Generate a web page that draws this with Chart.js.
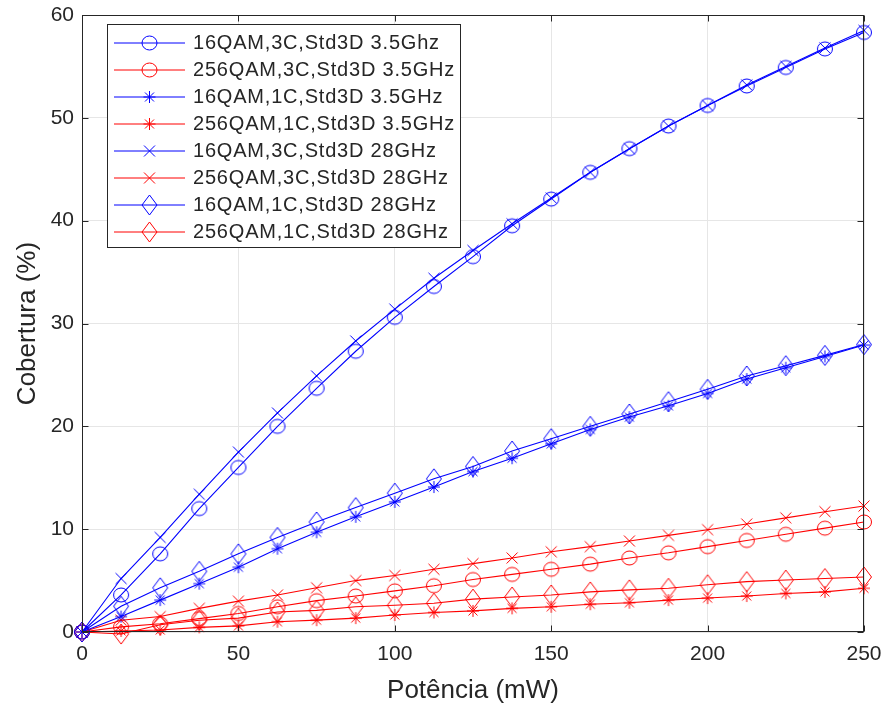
<!DOCTYPE html>
<html>
<head>
<meta charset="utf-8">
<title>Cobertura x Potência</title>
<script src="https://cdn.jsdelivr.net/npm/chart.js@4.4.1/dist/chart.umd.min.js"></script>
<style>
    html, body { margin: 0; padding: 0; background: #fff; }
    #wrap { position: relative; width: 886px; height: 706px; }
    #legenda {
        position: absolute; left: 107px; top: 24px; width: 352px; height: 218px;
        border: 1px solid #262626; background: #fff; padding-top: 4px; box-sizing: content-box;
        font-family: 'Liberation Sans', Arial, sans-serif; font-size: 20px; color: #262626;
        letter-spacing: 0.8px; white-space: nowrap;
    }
    #legenda .item { display: flex; align-items: center; height: 27px; }
    #legenda canvas { margin-left: 6px; margin-right: 8px; }
</style>
</head>
<body>
<div id="wrap">
    <canvas id="grafico" width="886" height="706"></canvas>
    <div id="legenda"></div>
</div>
<script>
// ========== DADOS ==========
const potencias = [0, 12.5, 25, 37.5, 50, 62.5, 75, 87.5, 100, 112.5, 125, 137.5, 150, 162.5, 175, 187.5, 200, 212.5, 225, 237.5, 250];

const qam16_3c_35 = [0, 3.6, 7.6, 12.0, 16.0, 20.0, 23.7, 27.3, 30.6, 33.6, 36.5, 39.5, 42.1, 44.7, 47.0, 49.2, 51.2, 53.1, 54.9, 56.7, 58.3];
const qam256_3c_35 = [0, 0.5, 0.8, 1.3, 1.8, 2.45, 3.05, 3.5, 4.0, 4.5, 5.1, 5.6, 6.1, 6.6, 7.2, 7.7, 8.3, 8.9, 9.5, 10.1, 10.7];
const qam16_1c_35 = [0, 1.5, 3.1, 4.7, 6.3, 8.1, 9.7, 11.2, 12.65, 14.1, 15.6, 16.9, 18.3, 19.7, 20.9, 22.0, 23.2, 24.6, 25.7, 26.8, 27.9];
const qam256_1c_35 = [0, 0.1, 0.2, 0.45, 0.6, 1.0, 1.15, 1.35, 1.65, 1.9, 2.05, 2.3, 2.45, 2.7, 2.85, 3.1, 3.3, 3.5, 3.75, 3.9, 4.25];
const qam16_3c_28 = [0, 5.2, 9.2, 13.4, 17.5, 21.3, 24.9, 28.3, 31.4, 34.4, 37.1, 39.7, 42.2, 44.7, 47.0, 49.2, 51.2, 53.2, 55.0, 56.8, 58.5];
const qam256_3c_28 = [0, 1.15, 1.5, 2.3, 3.0, 3.6, 4.3, 5.0, 5.5, 6.1, 6.65, 7.2, 7.8, 8.3, 8.85, 9.4, 9.95, 10.5, 11.1, 11.7, 12.25];
const qam16_1c_28 = [0, 2.5, 4.3, 5.9, 7.6, 9.2, 10.7, 12.1, 13.5, 14.9, 16.1, 17.6, 18.8, 20.0, 21.2, 22.4, 23.6, 24.9, 25.9, 26.9, 27.95];
const qam256_1c_28 = [0, -0.2, 0.7, 1.15, 1.35, 1.95, 2.1, 2.45, 2.6, 2.8, 3.2, 3.4, 3.6, 3.9, 4.1, 4.25, 4.6, 4.9, 5.05, 5.2, 5.35];

const rotulos = [
    '16QAM,3C,Std3D 3.5Ghz',
    '256QAM,3C,Std3D 3.5GHz',
    '16QAM,1C,Std3D 3.5GHz',
    '256QAM,1C,Std3D 3.5GHz',
    '16QAM,3C,Std3D 28GHz',
    '256QAM,3C,Std3D 28GHz',
    '16QAM,1C,Std3D 28GHz',
    '256QAM,1C,Std3D 28GHz'
];

const AZUL = '#0000ff';
const VERMELHO = '#ff0000';
const TEXTO = '#262626';
const FONTE = "'Liberation Sans', Arial, sans-serif";

// ========== MARCADORES ==========
// desenha o marcador no centro de um canvas; se larguraLinha > 0 inclui a linha da legenda
function desenhaMarcador(tipo, cor, larguraLinha) {
    const w = larguraLinha || 22, h = 24;
    const c = document.createElement('canvas');
    c.width = w; c.height = h;
    const ctx = c.getContext('2d');
    const cx = w / 2, cy = h / 2;
    ctx.strokeStyle = cor;
    ctx.lineWidth = 1;
    if (larguraLinha) {
        ctx.beginPath();
        ctx.moveTo(0, cy); ctx.lineTo(w, cy);
        ctx.stroke();
    }
    ctx.beginPath();
    switch (tipo) {
        case 'circulo':
            ctx.ellipse(cx, cy, 7.5, 7, 0, 0, Math.PI * 2);
            break;
        case 'asterisco':
            ctx.moveTo(cx - 6, cy); ctx.lineTo(cx + 6, cy);
            ctx.moveTo(cx, cy - 6); ctx.lineTo(cx, cy + 6);
            ctx.moveTo(cx - 4.5, cy - 4.5); ctx.lineTo(cx + 4.5, cy + 4.5);
            ctx.moveTo(cx - 4.5, cy + 4.5); ctx.lineTo(cx + 4.5, cy - 4.5);
            break;
        case 'xis':
            ctx.moveTo(cx - 5.5, cy - 5.5); ctx.lineTo(cx + 5.5, cy + 5.5);
            ctx.moveTo(cx - 5.5, cy + 5.5); ctx.lineTo(cx + 5.5, cy - 5.5);
            break;
        case 'losango':
            ctx.moveTo(cx, cy - 10); ctx.lineTo(cx + 7.5, cy);
            ctx.lineTo(cx, cy + 10); ctx.lineTo(cx - 7.5, cy);
            ctx.closePath();
            break;
    }
    ctx.stroke();
    return c;
}

function serie(indice, dados, cor, tipo) {
    return {
        label: rotulos[indice],
        data: dados,
        borderColor: cor,
        backgroundColor: cor,
        borderWidth: 1.1,
        pointStyle: desenhaMarcador(tipo, cor),
        pointRadius: 7,
        tension: 0,
        clip: false,
        marcador: tipo
    };
}

const datasets = [
    serie(0, qam16_3c_35, AZUL, 'circulo'),
    serie(1, qam256_3c_35, VERMELHO, 'circulo'),
    serie(2, qam16_1c_35, AZUL, 'asterisco'),
    serie(3, qam256_1c_35, VERMELHO, 'asterisco'),
    serie(4, qam16_3c_28, AZUL, 'xis'),
    serie(5, qam256_3c_28, VERMELHO, 'xis'),
    serie(6, qam16_1c_28, AZUL, 'losango'),
    serie(7, qam256_1c_28, VERMELHO, 'losango')
];

// ========== CAIXA DOS EIXOS (estilo MATLAB) ==========
const caixaEixos = {
    id: 'caixaEixos',
    afterDraw(chart) {
        const { ctx, chartArea: a, scales } = chart;
        const L = Math.round(a.left) + 0.5, R = Math.round(a.right) - 0.5;
        const T = Math.round(a.top) + 0.5, B = Math.round(a.bottom) - 0.5;
        ctx.save();
        ctx.strokeStyle = TEXTO;
        ctx.lineWidth = 1;
        ctx.strokeRect(L, T, R - L, B - T);
        ctx.beginPath();
        scales.x.ticks.forEach(t => {
            const x = Math.round(scales.x.getPixelForValue(t.value)) + 0.5;
            ctx.moveTo(x, B); ctx.lineTo(x, B - 6);
            ctx.moveTo(x, T); ctx.lineTo(x, T + 6);
        });
        scales.y.ticks.forEach(t => {
            const y = Math.round(scales.y.getPixelForValue(t.value)) + 0.5;
            ctx.moveTo(L, y); ctx.lineTo(L + 6, y);
            ctx.moveTo(R, y); ctx.lineTo(R - 6, y);
        });
        ctx.stroke();
        ctx.restore();
    }
};

// sem folga extra dos rótulos: a área do gráfico fica só com o padding do layout
function semFolga(s) {
    s.paddingTop = 0; s.paddingBottom = 0;
    s.paddingLeft = 0; s.paddingRight = 0;
}

// ========== GRÁFICO ==========
const grafico = new Chart(document.getElementById('grafico'), {
    type: 'line',
    data: { labels: potencias, datasets },
    options: {
        responsive: false,
        animation: false,
        devicePixelRatio: 1,
        layout: { padding: { top: 15, right: 22, left: 0, bottom: 0 } },
        plugins: { legend: { display: false }, tooltip: { enabled: false } },
        scales: {
            x: {
                type: 'linear', min: 0, max: 250,
                ticks: { stepSize: 50, color: TEXTO, font: { family: FONTE, size: 21 }, padding: 10, maxRotation: 0 },
                grid: { color: '#e6e6e6', drawTicks: false },
                border: { display: false },
                title: { display: true, text: 'Potência (mW)', color: TEXTO, font: { family: FONTE, size: 26 }, padding: { top: 0, bottom: 0 } },
                afterFit: s => { s.height = 74; semFolga(s); }
            },
            y: {
                min: 0, max: 60,
                ticks: { stepSize: 10, color: TEXTO, font: { family: FONTE, size: 21 }, padding: 8 },
                grid: { color: '#e6e6e6', drawTicks: false },
                border: { display: false },
                title: { display: true, text: 'Cobertura (%)', color: TEXTO, font: { family: FONTE, size: 26 }, padding: { top: 12, bottom: 0 } },
                afterFit: s => { s.width = 82; semFolga(s); }
            }
        }
    },
    plugins: [caixaEixos]
});

// ========== LEGENDA ==========
const legenda = document.getElementById('legenda');
grafico.data.datasets.forEach(ds => {
    const item = document.createElement('div');
    item.className = 'item';
    item.appendChild(desenhaMarcador(ds.marcador, ds.borderColor, 71));
    const txt = document.createElement('span');
    txt.textContent = ds.label;
    item.appendChild(txt);
    legenda.appendChild(item);
});
</script>
</body>
</html>
